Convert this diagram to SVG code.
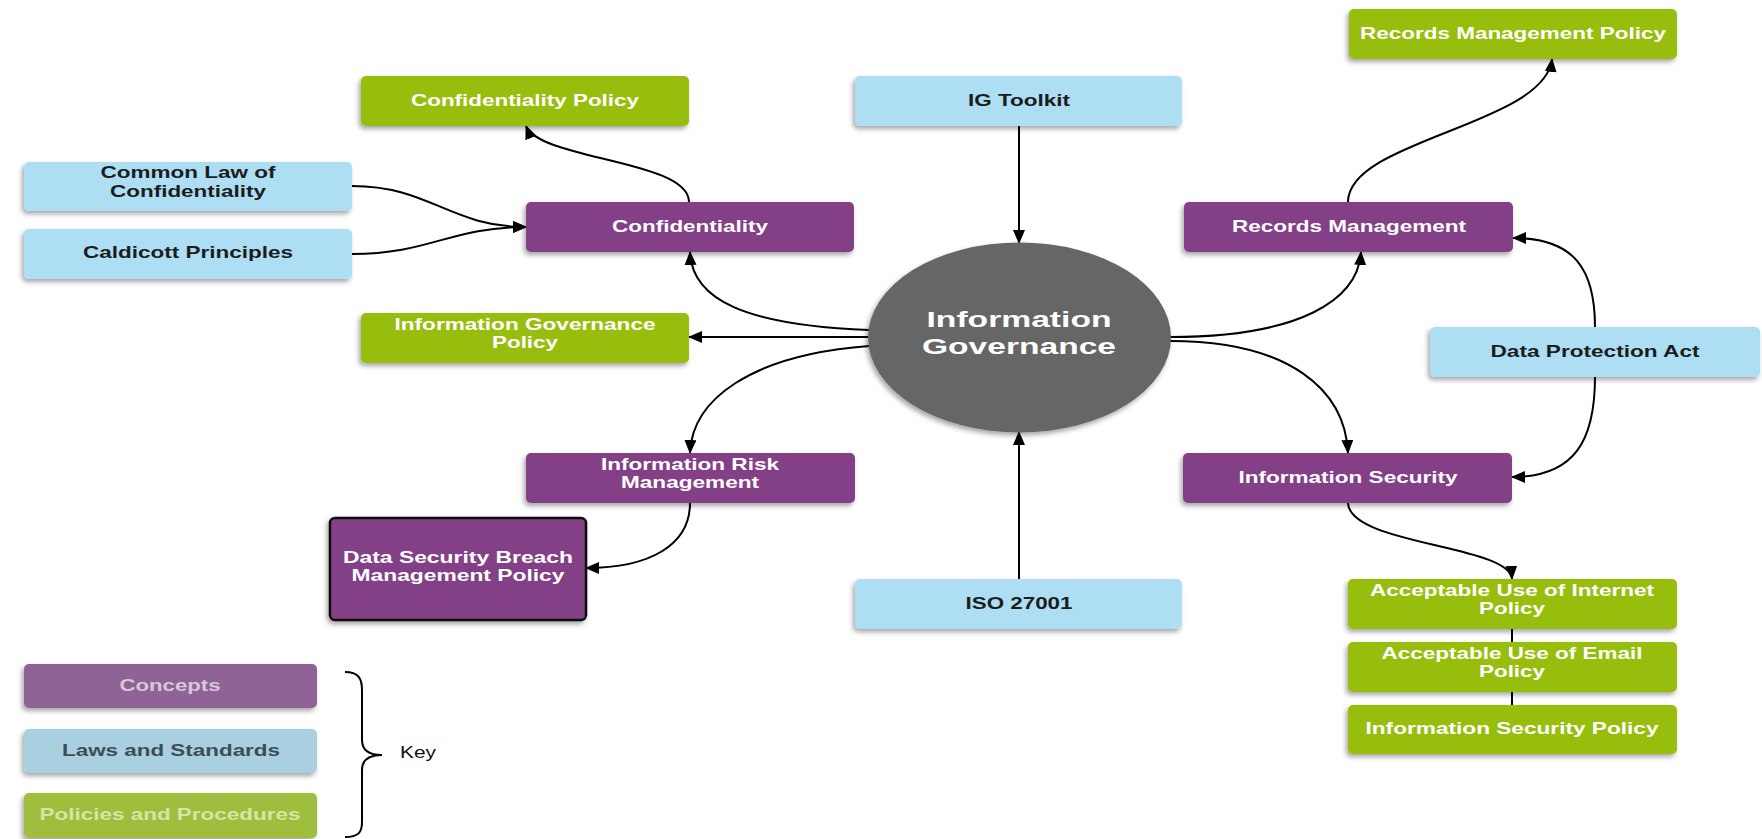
<svg xmlns="http://www.w3.org/2000/svg" width="1762" height="839" viewBox="0 0 1762 839">
<defs>
<style>
.t{font-family:"Liberation Sans",Arial,sans-serif;font-weight:bold;font-size:16.5px;text-anchor:middle}
.w{fill:#ffffff}
.d{fill:#1c1c1c}
.pu{fill:#834187}
.gr{fill:#98be10}
.bl{fill:#addef3}
.c{fill:none;stroke:#000;stroke-width:2}
</style>
<filter id="sh" x="-10%" y="-20%" width="120%" height="150%">
<feDropShadow dx="-2" dy="3" stdDeviation="2.5" flood-color="#000" flood-opacity="0.35"/>
</filter>
<marker id="ah" viewBox="0 0 14 12" refX="13" refY="6" markerWidth="14" markerHeight="12" markerUnits="userSpaceOnUse" orient="auto">
<path d="M0,0 L14,6 L0,12 z" fill="#000"/>
</marker>
</defs>
<rect width="1762" height="839" fill="#ffffff"/>

<g id="connectors">
<path class="c" d="M1019,126 L1019,243" marker-end="url(#ah)"/>
<path class="c" d="M1019,579 L1019,432" marker-end="url(#ah)"/>
<path class="c" d="M868,337 L689,337" marker-end="url(#ah)"/>
<path class="c" d="M869,330 C745,325 692,300 690,252" marker-end="url(#ah)"/>
<path class="c" d="M869,346 C750,355 692,400 690,453" marker-end="url(#ah)"/>
<path class="c" d="M1170,337 C1300,337 1358,300 1361,252" marker-end="url(#ah)"/>
<path class="c" d="M1170,341 C1290,341 1345,390 1348,453" marker-end="url(#ah)"/>
<path class="c" d="M689,202 C689,160 540,160 526,126" marker-end="url(#ah)"/>
<path class="c" d="M352,186 C430,186 450,227 526,227" marker-end="url(#ah)"/>
<path class="c" d="M352,254 C430,254 450,227 526,227" marker-end="url(#ah)"/>
<path class="c" d="M1348,202 C1348,140 1545,125 1552,59" marker-end="url(#ah)"/>
<path class="c" d="M1595,327 C1595,270 1575,238 1513,238" marker-end="url(#ah)"/>
<path class="c" d="M1595,377 C1595,440 1575,477 1512,477" marker-end="url(#ah)"/>
<path class="c" d="M690,503 C690,545 650,568 586,568" marker-end="url(#ah)"/>
<path class="c" d="M1348,503 C1350,545 1510,545 1512,579" marker-end="url(#ah)"/>
<path class="c" d="M1512,629 L1512,642"/>
<path class="c" d="M1512,692 L1512,705"/>
</g>

<g id="rmp"><rect class="gr" x="1349" y="9" width="328" height="50" rx="5" filter="url(#sh)"/><text class="t w" x="1513" y="39" textLength="306" lengthAdjust="spacingAndGlyphs">Records Management Policy</text></g>
<g id="cpol"><rect class="gr" x="361" y="76" width="328" height="50" rx="5" filter="url(#sh)"/><text class="t w" x="525" y="106" textLength="228" lengthAdjust="spacingAndGlyphs">Confidentiality Policy</text></g>
<g id="igt"><rect class="bl" x="855" y="76" width="327" height="50" rx="5" filter="url(#sh)"/><text class="t d" x="1019" y="106" textLength="102" lengthAdjust="spacingAndGlyphs">IG Toolkit</text></g>
<g id="clc"><rect class="bl" x="24" y="162" width="328" height="49" rx="5" filter="url(#sh)"/><text class="t d" x="188" y="178" textLength="175" lengthAdjust="spacingAndGlyphs">Common Law of</text><text class="t d" x="188" y="197" textLength="156" lengthAdjust="spacingAndGlyphs">Confidentiality</text></g>
<g id="cp"><rect class="bl" x="24" y="229" width="328" height="50" rx="5" filter="url(#sh)"/><text class="t d" x="188" y="258" textLength="210" lengthAdjust="spacingAndGlyphs">Caldicott Principles</text></g>
<g id="conf"><rect class="pu" x="526" y="202" width="328" height="50" rx="5" filter="url(#sh)"/><text class="t w" x="690" y="232" textLength="156" lengthAdjust="spacingAndGlyphs">Confidentiality</text></g>
<g id="rm"><rect class="pu" x="1184" y="202" width="329" height="50" rx="5" filter="url(#sh)"/><text class="t w" x="1349" y="232" textLength="234" lengthAdjust="spacingAndGlyphs">Records Management</text></g>
<g id="igp"><rect class="gr" x="361" y="313" width="328" height="50" rx="5" filter="url(#sh)"/><text class="t w" x="525" y="330" textLength="261" lengthAdjust="spacingAndGlyphs">Information Governance</text><text class="t w" x="525" y="348" textLength="66" lengthAdjust="spacingAndGlyphs">Policy</text></g>
<g id="ig"><ellipse cx="1019.5" cy="337.5" rx="151.5" ry="95" fill="#666666" filter="url(#sh)"/><text class="t w" x="1019" y="327" style="font-size:22px" textLength="185" lengthAdjust="spacingAndGlyphs">Information</text><text class="t w" x="1019" y="354" style="font-size:22px" textLength="194" lengthAdjust="spacingAndGlyphs">Governance</text></g>
<g id="dpa"><rect class="bl" x="1430" y="327" width="330" height="50" rx="5" filter="url(#sh)"/><text class="t d" x="1595" y="357" textLength="209" lengthAdjust="spacingAndGlyphs">Data Protection Act</text></g>
<g id="irm"><rect class="pu" x="526" y="453" width="329" height="50" rx="5" filter="url(#sh)"/><text class="t w" x="690" y="470" textLength="178" lengthAdjust="spacingAndGlyphs">Information Risk</text><text class="t w" x="690" y="488" textLength="138" lengthAdjust="spacingAndGlyphs">Management</text></g>
<g id="is"><rect class="pu" x="1183" y="453" width="329" height="50" rx="5" filter="url(#sh)"/><text class="t w" x="1348" y="483" textLength="219" lengthAdjust="spacingAndGlyphs">Information Security</text></g>
<g id="dsb"><rect class="pu" x="330" y="518" width="256" height="102" rx="5" stroke="#111" stroke-width="2.5" filter="url(#sh)"/><text class="t w" x="458" y="563" textLength="230" lengthAdjust="spacingAndGlyphs">Data Security Breach</text><text class="t w" x="458" y="581" textLength="213" lengthAdjust="spacingAndGlyphs">Management Policy</text></g>
<g id="iso"><rect class="bl" x="855" y="579" width="327" height="50" rx="5" filter="url(#sh)"/><text class="t d" x="1019" y="609" textLength="107" lengthAdjust="spacingAndGlyphs">ISO 27001</text></g>
<g id="aui"><rect class="gr" x="1348" y="579" width="329" height="50" rx="5" filter="url(#sh)"/><text class="t w" x="1512" y="596" textLength="284" lengthAdjust="spacingAndGlyphs">Acceptable Use of Internet</text><text class="t w" x="1512" y="614" textLength="66" lengthAdjust="spacingAndGlyphs">Policy</text></g>
<g id="aue"><rect class="gr" x="1348" y="642" width="329" height="50" rx="5" filter="url(#sh)"/><text class="t w" x="1512" y="659" textLength="261" lengthAdjust="spacingAndGlyphs">Acceptable Use of Email</text><text class="t w" x="1512" y="677" textLength="66" lengthAdjust="spacingAndGlyphs">Policy</text></g>
<g id="isp"><rect class="gr" x="1348" y="705" width="329" height="49" rx="5" filter="url(#sh)"/><text class="t w" x="1512" y="734" textLength="293" lengthAdjust="spacingAndGlyphs">Information Security Policy</text></g>

<g id="legend">
<g id="key-concepts"><rect x="24" y="664" width="293" height="44" rx="5" fill="#8f6496" filter="url(#sh)"/><text class="t" x="170" y="691" fill="#d9c6dc" textLength="101" lengthAdjust="spacingAndGlyphs">Concepts</text></g>
<g id="key-laws"><rect x="24" y="729" width="293" height="44" rx="5" fill="#a9d0e0" filter="url(#sh)"/><text class="t" x="171" y="756" fill="#3e4d55" textLength="218" lengthAdjust="spacingAndGlyphs">Laws and Standards</text></g>
<g id="key-policies"><rect x="24" y="793" width="293" height="45" rx="5" fill="#9fbe3c" filter="url(#sh)"/><text class="t" x="170" y="820" fill="#d6e5a6" textLength="261" lengthAdjust="spacingAndGlyphs">Policies and Procedures</text></g>
<path class="c" d="M345,672 C358,672 362,678 362,690 L362,740 C362,750 368,755 382,755 C368,755 362,760 362,770 L362,822 C362,833 358,837 345,837"/>
<text x="418" y="758" font-family="'Liberation Sans',Arial,sans-serif" font-size="16" text-anchor="middle" fill="#111" textLength="36" lengthAdjust="spacingAndGlyphs">Key</text>
</g>
</svg>
